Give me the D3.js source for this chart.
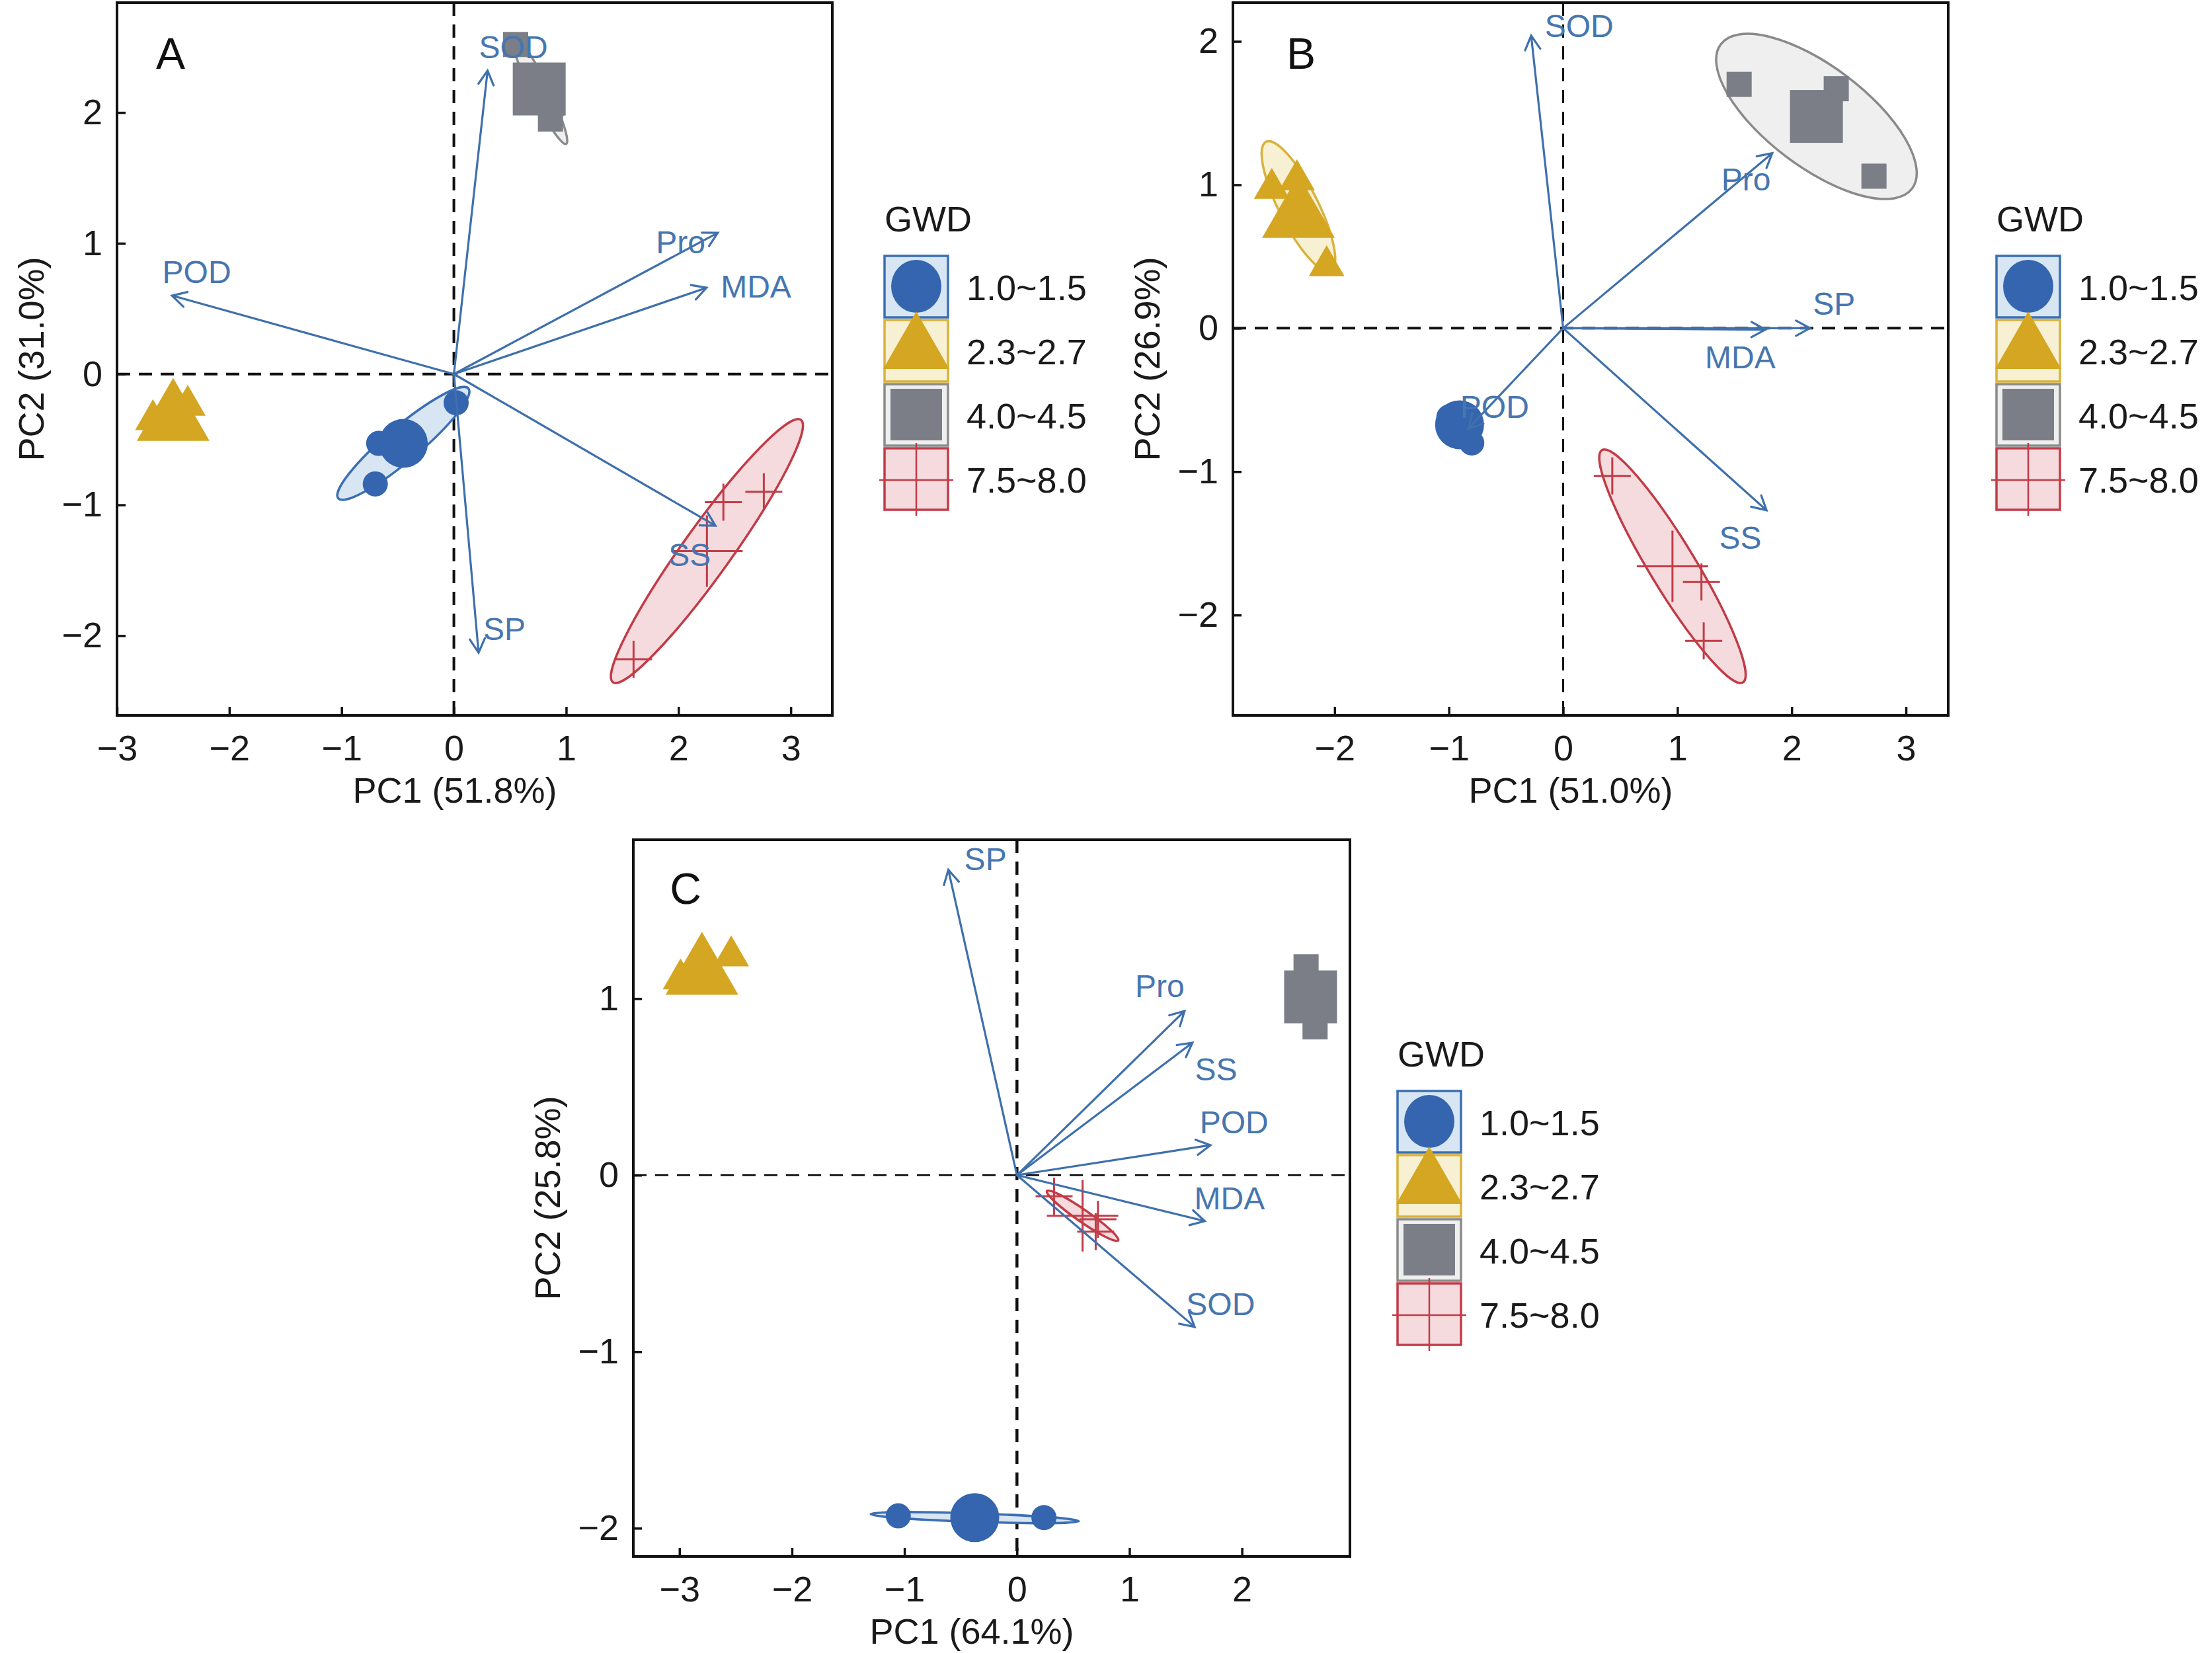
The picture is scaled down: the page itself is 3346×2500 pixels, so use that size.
<!DOCTYPE html>
<html><head><meta charset="utf-8">
<script src="https://cdn.jsdelivr.net/npm/d3@7/dist/d3.min.js"></script>
<style>body{margin:0;background:#fff}svg{display:block}</style>
</head><body><svg id="c" width="3346" height="2500"></svg>
<script>
// ---------------- data ----------------
const groups = ["1.0~1.5", "2.3~2.7", "4.0~4.5", "7.5~8.0"];
const panelNames = ["A", "B", "C"];
const xTitles = ["PC1 (51.8%)", "PC1 (51.0%)", "PC1 (64.1%)"];
const yTitles = ["PC2 (31.0%)", "PC2 (26.9%)", "PC2 (25.8%)"];
const xDomains = [[-3, 3.37], [-2.89, 3.37], [-3.41, 2.96]];
const yDomains = [[-2.61, 2.84], [-2.70, 2.27], [-2.16, 1.90]];
const xTickValues = [[-3, -2, -1, 0, 1, 2, 3], [-2, -1, 0, 1, 2, 3], [-3, -2, -1, 0, 1, 2]];
const yTickValues = [[-2, -1, 0, 1, 2], [-2, -1, 0, 1, 2], [-2, -1, 0, 1]];

// variable loadings: [variable, tipX, tipY, labelX, labelY]
const loadingsA = [
  ["SOD", 0.30, 2.32, 0.53, 2.50],
  ["Pro", 2.35, 1.08, 2.02, 1.01],
  ["MDA", 2.25, 0.66, 2.69, 0.67],
  ["POD", -2.51, 0.60, -2.29, 0.78],
  ["SS", 2.33, -1.16, 2.10, -1.38],
  ["SP", 0.22, -2.13, 0.45, -1.95]
];
const loadingsB = [
  ["SOD", -0.28, 2.04, 0.14, 2.11],
  ["Pro", 1.83, 1.22, 1.60, 1.04],
  ["SP", 2.16, 0.00, 2.37, 0.17],
  ["MDA", 1.77, -0.01, 1.55, -0.20],
  ["POD", -0.83, -0.70, -0.60, -0.55],
  ["SS", 1.78, -1.27, 1.55, -1.46]
];
const loadingsC = [
  ["SP", -0.61, 1.73, -0.28, 1.79],
  ["Pro", 1.49, 0.93, 1.27, 1.07],
  ["SS", 1.56, 0.75, 1.77, 0.60],
  ["POD", 1.72, 0.17, 1.93, 0.30],
  ["MDA", 1.67, -0.26, 1.89, -0.13],
  ["SOD", 1.58, -0.86, 1.81, -0.73]
];

// sample scores: [groupIndex, PC1, PC2]
const scoresA = [
  [0, 0.02, -0.22], [0, -0.70, -0.84], [0, -0.67, -0.53],
  [1, -2.37, -0.20], [1, -2.45, -0.30], [1, -2.68, -0.31],
  [2, 0.55, 2.52], [2, 0.86, 1.95], [2, 0.87, 2.07],
  [3, 1.60, -2.18], [3, 2.40, -0.98], [3, 2.76, -0.90]
];
const scoresB = [
  [0, -1.00, -0.62], [0, -0.92, -0.60], [0, -0.80, -0.80],
  [1, -2.55, 1.01], [1, -2.33, 1.07], [1, -2.07, 0.47],
  [2, 1.54, 1.70], [2, 2.39, 1.67], [2, 2.72, 1.06],
  [3, 0.43, -1.03], [3, 1.21, -1.77], [3, 1.23, -2.18]
];
const scoresC = [
  [0, -1.055, -1.93], [0, 0.24, -1.94], [0, -0.31, -1.95],
  [1, -2.99, 1.14], [1, -2.54, 1.27], [1, -2.87, 1.19],
  [2, 2.57, 1.18], [2, 2.65, 0.84], [2, 2.61, 1.01],
  [3, 0.33, -0.12], [3, 0.72, -0.25], [3, 0.70, -0.32]
];

// concentration ellipses: [groupIndex, majorAxisEndX, majorAxisEndY, minor/major ratio]
const ellipsesA = [[0, 0.13, -0.11, 0.20], [2, 1.00, 1.76, 0.14], [3, 3.09, -0.35, 0.15]];
const ellipsesB = [[1, -2.60, 1.30, 0.27], [2, 1.38, 1.98, 0.42], [3, 0.34, -0.85, 0.17]];
const ellipsesC = [[0, 0.55, -1.96, 0.04], [3, 0.90, -0.37, 0.14]];

const loadings = [loadingsA, loadingsB, loadingsC];
const scores = [scoresA, scoresB, scoresC];
const ellipses = [ellipsesA, ellipsesB, ellipsesC];

// ---------------- style / layout ----------------
const FONT = "'Liberation Sans', Arial, Helvetica, sans-serif";
const markFill = ["#3465ae", "#d4a621", "#7b7e86", "#c23b47"];
const lightFill = ["#d7e6f2", "#f7f0d3", "#efefef", "#f5dbde"];
const edgeCol = ["#3a6fb4", "#d8b23a", "#8a8a8a", "#c23b47"];
const arrowCol = "#3f70ac";
const labelCol = "#4676b0";
const fmt = d3.format("d");

const layout = [
  {l: 177, r: 1259, t: 4, b: 1082, legX: 1338, legY: 387, letX: 258, letY: 80, hw: 4, vw: 4},
  {l: 1865, r: 2947, t: 4, b: 1082, legX: 3020, legY: 387, letX: 1968, letY: 80, hw: 4, vw: 3},
  {l: 958, r: 2042, t: 1270, b: 2354, legX: 2114, legY: 1650, letX: 1037, letY: 1343, hw: 2.8, vw: 4.5}
];

const svg = d3.select("#c");
svg.append("rect").attr("width", 3346).attr("height", 2500).attr("fill", "#fff");

function drawMark(g, gi, cx, cy, big) {
  if (gi === 0) {
    g.append("circle").attr("cx", cx).attr("cy", cy).attr("r", big ? 37 : 19).attr("fill", markFill[0]);
  } else if (gi === 1) {
    const s = big ? 110 : 54, h = s * 0.866;
    g.append("path").attr("d", `M${cx},${cy - h / 2}L${cx + s / 2},${cy + h / 2}L${cx - s / 2},${cy + h / 2}Z`).attr("fill", markFill[1]);
  } else if (gi === 2) {
    const s = big ? 80 : 38;
    g.append("rect").attr("x", cx - s / 2).attr("y", cy - s / 2).attr("width", s).attr("height", s).attr("fill", markFill[2]);
  } else {
    const a = big ? 54 : 28;
    g.append("path").attr("d", `M${cx - a},${cy}H${cx + a}M${cx},${cy - a}V${cy + a}`)
      .attr("stroke", markFill[3]).attr("stroke-width", 3).attr("fill", "none");
  }
}

layout.forEach((p, i) => {
  const g = svg.append("g").attr("font-family", FONT);
  const x = d3.scaleLinear().domain(xDomains[i]).range([p.l, p.r]);
  const y = d3.scaleLinear().domain(yDomains[i]).range([p.b, p.t]);

  const clipId = "clip" + i;
  svg.append("clipPath").attr("id", clipId).append("rect")
    .attr("x", p.l).attr("y", p.t).attr("width", p.r - p.l).attr("height", p.b - p.t);
  const plot = g.append("g").attr("clip-path", `url(#${clipId})`);

  // zero reference lines
  plot.append("line").attr("x1", p.l).attr("x2", p.r).attr("y1", y(0)).attr("y2", y(0))
    .attr("stroke", "#111").attr("stroke-width", p.hw).attr("stroke-dasharray", "20,13");
  plot.append("line").attr("x1", x(0)).attr("x2", x(0)).attr("y1", p.t).attr("y2", p.b)
    .attr("stroke", "#111").attr("stroke-width", p.vw).attr("stroke-dasharray", "20,13");

  // group means
  const sc = scores[i];
  const means = groups.map((_, gi) => {
    const pts = sc.filter(d => d[0] === gi);
    return [gi, d3.mean(pts, d => d[1]), d3.mean(pts, d => d[2])];
  });

  // ellipses
  ellipses[i].forEach(e => {
    const m = means[e[0]];
    const cx = x(m[1]), cy = y(m[2]);
    const ex = x(e[1]), ey = y(e[2]);
    const rx = Math.hypot(ex - cx, ey - cy);
    const ang = Math.atan2(ey - cy, ex - cx) * 180 / Math.PI;
    plot.append("ellipse").attr("cx", 0).attr("cy", 0).attr("rx", rx).attr("ry", rx * e[3])
      .attr("transform", `translate(${cx},${cy}) rotate(${ang})`)
      .attr("fill", lightFill[e[0]]).attr("stroke", edgeCol[e[0]]).attr("stroke-width", 3.5);
  });

  // sample points
  sc.forEach(d => drawMark(plot, d[0], x(d[1]), y(d[2]), false));
  // mean points (large)
  means.forEach(m => drawMark(plot, m[0], x(m[1]), y(m[2]), true));

  // loading arrows
  const ox = x(0), oy = y(0);
  loadings[i].forEach(d => {
    const tx = x(d[1]), ty = y(d[2]);
    const a = Math.atan2(ty - oy, tx - ox), L = 24, w = 0.5;
    const h1 = [tx - L * Math.cos(a - w), ty - L * Math.sin(a - w)];
    const h2 = [tx - L * Math.cos(a + w), ty - L * Math.sin(a + w)];
    plot.append("path")
      .attr("d", `M${ox},${oy}L${tx},${ty}M${h1[0]},${h1[1]}L${tx},${ty}L${h2[0]},${h2[1]}`)
      .attr("fill", "none").attr("stroke", arrowCol).attr("stroke-width", 3.2)
      .attr("stroke-linejoin", "miter").attr("stroke-linecap", "round");
    plot.append("text").attr("x", x(d[3])).attr("y", y(d[4])).attr("dy", "0.35em")
      .attr("text-anchor", "middle").attr("font-size", 48).attr("fill", labelCol).text(d[0]);
  });

  // panel letter
  g.append("text").attr("x", p.letX).attr("y", p.letY).attr("dy", "0.36em").attr("text-anchor", "middle")
    .attr("font-size", 66).attr("fill", "#111").text(panelNames[i]);

  // axes (inward ticks)
  const xa = g.append("g").attr("transform", `translate(0,${p.b})`)
    .call(d3.axisBottom(x).tickValues(xTickValues[i]).tickFormat(fmt).tickSizeInner(-13).tickSizeOuter(0).tickPadding(30));
  const ya = g.append("g").attr("transform", `translate(${p.l},0)`)
    .call(d3.axisLeft(y).tickValues(yTickValues[i]).tickFormat(fmt).tickSizeInner(-13).tickSizeOuter(0).tickPadding(22));
  [xa, ya].forEach(a => {
    a.select(".domain").remove();
    a.selectAll("line").attr("stroke", "#111").attr("stroke-width", 3.5);
    a.selectAll("text").attr("font-size", 54).attr("font-family", FONT).attr("fill", "#1a1a1a");
  });

  // frame
  g.append("rect").attr("x", p.l).attr("y", p.t).attr("width", p.r - p.l).attr("height", p.b - p.t)
    .attr("fill", "none").attr("stroke", "#111").attr("stroke-width", 4);

  // axis titles
  g.append("text").attr("x", (p.l + p.r) / 2 - 30).attr("y", p.b + 132).attr("text-anchor", "middle")
    .attr("font-size", 54).attr("fill", "#1a1a1a").text(xTitles[i]);
  g.append("text").attr("transform", `translate(${p.l - 130},${(p.t + p.b) / 2}) rotate(-90)`)
    .attr("dy", "0.36em").attr("text-anchor", "middle")
    .attr("font-size", 54).attr("fill", "#1a1a1a").text(yTitles[i]);

  // legend
  const lg = g.append("g");
  const bw = 96, step = 97;
  lg.append("text").attr("x", p.legX).attr("y", p.legY - 37).attr("font-size", 54).attr("fill", "#1a1a1a").text("GWD");
  groups.forEach((name, gi) => {
    const bx = p.legX, by = p.legY + gi * step, cx = bx + bw / 2, cy = by + bw / 2;
    lg.append("rect").attr("x", bx).attr("y", by).attr("width", bw).attr("height", bw - 3)
      .attr("fill", lightFill[gi]).attr("stroke", edgeCol[gi]).attr("stroke-width", 3.5);
    if (gi === 0) {
      lg.append("ellipse").attr("cx", cx).attr("cy", cy - 2).attr("rx", 38).attr("ry", 40).attr("fill", markFill[0]);
    } else if (gi === 1) {
      lg.append("path").attr("d", `M${cx},${by - 13}L${bx + bw + 2},${by + bw - 22}L${bx - 2},${by + bw - 22}Z`).attr("fill", markFill[1]);
    } else if (gi === 2) {
      lg.append("rect").attr("x", cx - 39).attr("y", cy - 41).attr("width", 78).attr("height", 78).attr("fill", markFill[2]);
    } else {
      lg.append("path").attr("d", `M${bx - 8},${cy}H${bx + bw + 8}M${cx},${by - 8}V${by + bw + 6}`)
        .attr("stroke", markFill[3]).attr("stroke-width", 2.5);
    }
    lg.append("text").attr("x", bx + 124).attr("y", cy).attr("dy", "0.36em")
      .attr("font-size", 54).attr("fill", "#1a1a1a").text(name);
  });
});
</script></body></html>
